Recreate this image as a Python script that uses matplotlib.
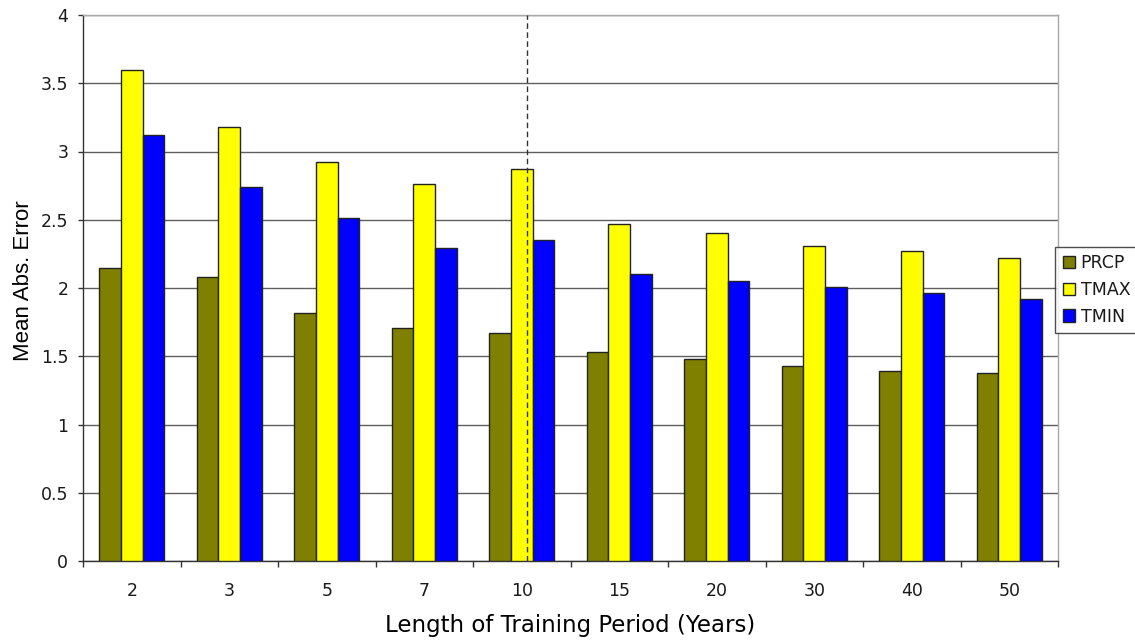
import matplotlib

matplotlib.use("Agg")

import matplotlib.pyplot as plt
import numpy as np

# Mean absolute error by training period length
periods = ["2", "3", "5", "7", "10", "15", "20", "30", "40", "50"]
prcp = [2.15, 2.08, 1.82, 1.71, 1.67, 1.53, 1.48, 1.43, 1.39, 1.38]
tmax = [3.60, 3.18, 2.92, 2.76, 2.87, 2.47, 2.40, 2.31, 2.27, 2.22]
tmin = [3.12, 2.74, 2.51, 2.29, 2.35, 2.10, 2.05, 2.01, 1.96, 1.92]
y_ticks = [0, 0.5, 1, 1.5, 2, 2.5, 3, 3.5, 4]
marked_period = "10"

OLIVE = "#808000"
YELLOW = "#FFFF00"
BLUE = "#0000FF"
GRID = "#5e5e5e"
TEXT = "#1a1a1a"

plt.rcParams["font.family"] = ["DejaVu Sans"]

fig = plt.figure(figsize=(11.35, 6.43), dpi=100)
ax = fig.add_axes([83 / 1135, 1 - 561 / 643, (1058 - 83) / 1135, (561 - 15) / 643])

x = np.arange(len(periods))
width = 0.2225
series = [("PRCP", prcp, OLIVE), ("TMAX", tmax, YELLOW), ("TMIN", tmin, BLUE)]
for idx, (name, values, color) in enumerate(series):
    ax.bar(
        x + (idx - 1) * width,
        values,
        width=width,
        color=color,
        edgecolor="#222222",
        linewidth=1.0,
        label=name,
        zorder=3,
    )

# dashed marker through the 10-year group
mx = periods.index(marked_period) + 0.055
ax.axvline(mx, color="#333333", linewidth=1.0, linestyle=(0, (4, 2.5)), zorder=4)

ax.set_xlim(-0.5, len(periods) - 0.5)
ax.set_ylim(0, 4)

ax.set_yticks(y_ticks)
ax.set_yticklabels([f"{v:g}" for v in y_ticks])
ax.yaxis.grid(True, color=GRID, linewidth=1.0, zorder=0)
ax.set_axisbelow(True)

# category boundaries get tick marks, labels sit at group centres
ax.set_xticks(np.arange(-0.5, len(periods), 1))
ax.set_xticklabels([])
ax.set_xticks(x, minor=True)
ax.set_xticklabels(periods, minor=True)
ax.tick_params(axis="x", which="major", direction="out", length=4.5, width=1, color="#333333")
ax.tick_params(axis="x", which="minor", length=0, pad=15, labelsize=12.5, labelcolor=TEXT)
ax.tick_params(axis="y", direction="out", length=3.6, width=1, color="#333333",
               pad=7, labelsize=12.5, labelcolor=TEXT)

for side in ("left", "bottom"):
    ax.spines[side].set_color("#333333")
    ax.spines[side].set_linewidth(1.0)
for side in ("top", "right"):
    ax.spines[side].set_color("#a8a8a8")
    ax.spines[side].set_linewidth(1.0)

ax.set_xlabel("Length of Training Period (Years)", fontsize=16.5, color="black", labelpad=10)
ax.set_ylabel("Mean Abs. Error", fontsize=16, color="black", va="center",
              family=["Liberation Sans", "DejaVu Sans"])
ax.yaxis.set_label_coords(-0.0615, 0.513)

leg = fig.legend(
    loc="center left",
    bbox_to_anchor=(1055 / 1135, 1 - 290 / 643),
    fontsize=12.5,
    frameon=True,
    fancybox=False,
    handlelength=0.72,
    handleheight=0.72,
    handletextpad=0.3,
    labelspacing=0.5,
    borderpad=0.45,
    borderaxespad=0,
)
leg.get_frame().set_edgecolor("#222222")
leg.get_frame().set_linewidth(1.0)
for text in leg.get_texts():
    text.set_color(TEXT)

fig.savefig("out.png", dpi=100, facecolor="white")
